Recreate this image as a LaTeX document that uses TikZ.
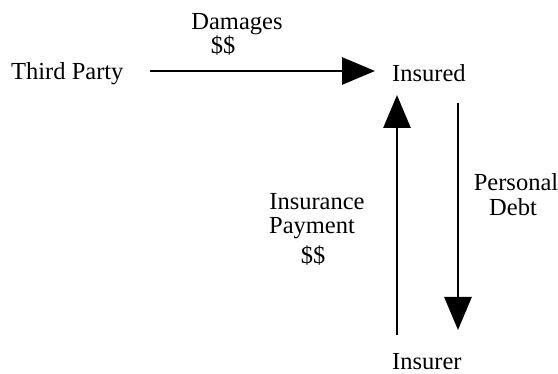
\documentclass[tikz,border=0pt]{standalone}
\usepackage{fontspec}
\setmainfont{Liberation Serif}
\usetikzlibrary{arrows.meta,calc}
\begin{document}
\begin{tikzpicture}[x=1pt,y=-1pt,
  txt/.style={inner sep=0pt,font=\fontsize{24.5}{25}\selectfont},
  flow/.style={line width=2.8pt,-{Triangle[length=33pt,width=27pt]}}]
\useasboundingbox[fill=white] (0,0) rectangle (558,374);
\node[txt,anchor=base west] (tp) at (11,80) {Third Party};
\node[txt,anchor=base west] (ins) at (392,82) {Insured};
\node[txt,anchor=base west] (isr) at (392,370) {Insurer};
\node[txt,anchor=base] (dmg) at (237,30) {Damages};
\node[txt,anchor=base] (dmgd) at (223,54) {\$\$};
\node[txt,anchor=base] (ip1) at (317,210) {Insurance};
\node[txt,anchor=base] (ip2) at (312,234) {Payment};
\node[txt,anchor=base] (ip3) at (313,264) {\$\$};
\node[txt,anchor=base] (pd1) at (516,191) {Personal};
\node[txt,anchor=base] (pd2) at (513,216) {Debt};
\draw[flow] ($(tp.base east)+(26,-9)$) -- ($(ins.base west)+(-17,-11)$);
\draw[flow] ($(isr.base west)+(5,-35)$) -- ($(ins.base west)+(5,13)$);
\draw[flow] ($(ins.base west)+(66,21)$) -- ($(isr.base west)+(66,-40)$);
\end{tikzpicture}
\end{document}
